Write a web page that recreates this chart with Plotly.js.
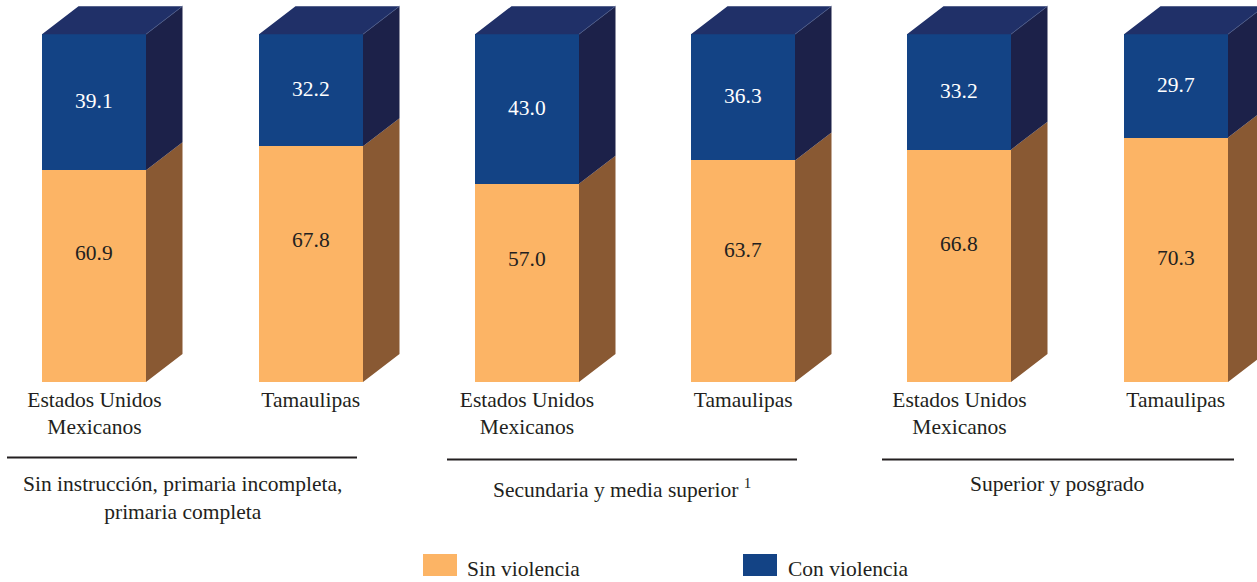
<!DOCTYPE html>
<html>
<head>
<meta charset="utf-8">
<script src="https://cdn.plot.ly/plotly-3.0.1.min.js"></script>
<style>html,body{margin:0;padding:0;background:#fff}#chart{width:1257px;height:582px}</style>
</head>
<body>
<div id="chart"></div>
<script>
var tickLabels = ["Estados Unidos<br>Mexicanos","Tamaulipas","Estados Unidos<br>Mexicanos","Tamaulipas","Estados Unidos<br>Mexicanos","Tamaulipas"];
var positions = [0,1,2,3,4,5];
var sinViolencia = [60.9,67.8,57.0,63.7,66.8,70.3];
var conViolencia = [39.1,32.2,43.0,36.3,33.2,29.7];
var sinLabelShift = [23,24.5,23.5,21.5,21.5,2];
var conLabelShift = [1,1,1,1,0.5,1];
var groupTitles = ["Sin instrucción, primaria incompleta,<br>primaria completa","Secundaria y media superior <sup>1</sup>","Superior y posgrado"];

var W=1257,H=582,plotH=382;
var unitX=216.25, unitY=3.478, originX=94.45;
var barW=104/unitX, depthX=36.5/unitX, depthY=28/unitY;
var FONT='"Liberation Serif","Times New Roman",serif';
var FS=21.5;
var INK='#231F20';
var ORANGE='#FCB465',BLUE='#134385',TOP='#203068',SIDEB='#1C2149',SIDEO='#895933';

function snap(v){return (Math.round(originX+v*unitX)-originX)/unitX;}
function side(lo,hi){
  var xs=[],ys=[];
  positions.forEach(function(p,i){
    var r=snap(p+barW/2), a=lo(i), b=hi(i);
    xs.push(r,r+depthX,r+depthX,r,r,null);
    ys.push(a,a+depthY,b+depthY,b,a,null);
  });
  return {x:xs,y:ys};
}
function topFace(){
  var xs=[],ys=[];
  positions.forEach(function(p,i){
    var l=snap(p-barW/2),r=snap(p+barW/2),t=sinViolencia[i]+conViolencia[i];
    xs.push(l,r,r+depthX,l+depthX,l,null);
    ys.push(t,t,t+depthY,t+depthY,t,null);
  });
  return {x:xs,y:ys};
}
function edges(){
  var xs=[],ys=[];
  positions.forEach(function(p,i){
    var r=snap(p+barW/2),t=sinViolencia[i]+conViolencia[i];
    xs.push(r,r+depthX,null);
    ys.push(t,t+depthY,null);
  });
  return {type:'scatter',mode:'lines',x:xs,y:ys,line:{width:0.75,color:'#4A5A88'},hoverinfo:'skip',showlegend:false};
}
function poly(d,c){
  return {type:'scatter',mode:'lines',x:d.x,y:d.y,fill:'toself',fillcolor:c,line:{width:0,color:c},hoverinfo:'skip',showlegend:false};
}
var total=function(i){return sinViolencia[i]+conViolencia[i];};
var traces=[
  poly(side(function(){return 0;},function(i){return sinViolencia[i];}),SIDEO),
  poly(side(function(i){return sinViolencia[i];},total),SIDEB),
  poly(topFace(),TOP),
  edges(),
  {type:'bar',name:'Sin violencia',x:positions,y:sinViolencia,width:barW,marker:{color:ORANGE},showlegend:false},
  {type:'bar',name:'Con violencia',x:positions,y:conViolencia,width:barW,marker:{color:BLUE},showlegend:false}
];
function px(x){return x/W;}
function py(y){return (plotH-y)/plotH;}
function note(x,y,text,anchor){
  return {xref:'paper',yref:'paper',x:px(x),y:py(y),text:text,showarrow:false,xanchor:anchor||'center',yanchor:'middle',align:'center',
    font:{family:FONT,size:FS,color:INK}};
}
var annotations=sinViolencia.map(function(v,i){
  return {xref:'x',yref:'y',x:positions[i],y:v/2,yshift:sinLabelShift[i],text:v.toFixed(1),showarrow:false,
    font:{family:FONT,size:FS,color:INK}};
}).concat(conViolencia.map(function(v,i){
  return {xref:'x',yref:'y',x:positions[i],y:sinViolencia[i]+v/2,yshift:conLabelShift[i],text:v.toFixed(1),showarrow:false,
    font:{family:FONT,size:FS,color:'#FFFFFF'}};
}));
annotations.push(note(182,498,groupTitles[0]),note(621.5,489,groupTitles[1]),note(1057,484,groupTitles[2]),
  note(464.5,569,'Sin violencia','left'),note(785.5,569,'Con violencia','left'));
function rule(a,b,y){return {type:'line',xref:'paper',yref:'paper',x0:px(a),x1:px(b),y0:py(y),y1:py(y),line:{color:INK,width:2}};}
function swatch(a,c){return {type:'rect',xref:'paper',yref:'paper',x0:px(a),x1:px(a+34),y0:py(554),y1:py(576),fillcolor:c,line:{width:0}};}
var layout={
  width:W,height:H,margin:{l:0,r:0,t:0,b:H-plotH,pad:0},
  paper_bgcolor:'#fff',plot_bgcolor:'#fff',barmode:'stack',showlegend:false,
  xaxis:{type:'linear',range:[-originX/unitX,(W-originX)/unitX],tickmode:'array',tickvals:positions,ticktext:tickLabels,ticks:'',ticklabelstandoff:2,
    showgrid:false,zeroline:false,showline:false,tickangle:0,tickfont:{family:FONT,size:FS,color:INK}},
  yaxis:{range:[0,plotH/unitY],visible:false,showgrid:false,zeroline:false},
  shapes:[rule(7,357,457.5),rule(447,797,459.5),rule(882,1234,459.5),swatch(423,ORANGE),swatch(743,BLUE)],
  annotations:annotations
};
Plotly.newPlot('chart',traces,layout,{displayModeBar:false,staticPlot:true});
</script>
</body>
</html>
